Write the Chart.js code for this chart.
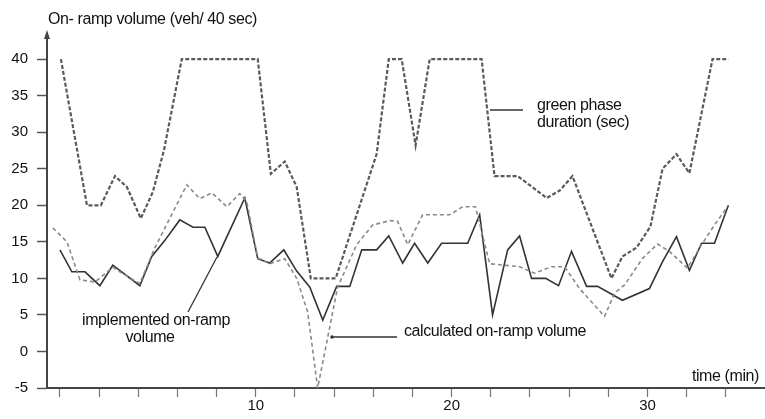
<!DOCTYPE html>
<html lang="en">
<head>
<meta charset="UTF-8">
<title>On-ramp volume and green phase duration</title>
<script src="https://cdn.jsdelivr.net/npm/chart.js"></script>
<style>
    html, body { margin: 0; padding: 0; background: #fff; }
    #wrap { width: 765px; height: 419px; }
</style>
</head>
<body>
<div id="wrap"><canvas id="rampChart" width="765" height="419"></canvas></div>

<script>
    // time (min) and values, one pair of arrays per curve
    const greenTime = [0.05, 1.38, 2.09, 2.81, 3.42, 4.13, 4.74, 5.31, 6.22, 10.10, 10.77, 11.48, 12.09, 12.81, 14.08,
        16.17, 16.79, 17.45, 18.16, 18.88, 21.53, 22.19, 23.37, 24.85, 25.51, 26.17, 28.16, 28.72, 29.44, 30.15,
        30.77, 31.48, 32.14, 33.32, 34.13];
    const greenSec = [40, 20, 20, 24, 22.5, 18.2, 21.8, 27.5, 40, 40, 24.3, 26, 22.5, 10, 10,
        27, 40, 40, 28.2, 40, 40, 24, 24, 21, 22, 24, 10, 13, 14.2, 17.1,
        25, 27, 24.4, 40, 40];

    const implTime = [0, 0.61, 1.28, 2.04, 2.70, 4.08, 4.69, 5.36, 6.12, 6.79, 7.40, 8.06, 9.44, 10.10, 10.71,
        11.43, 12.09, 12.76, 13.42, 14.13, 14.80, 15.41, 16.17, 16.79, 17.50, 18.11, 18.78, 19.49, 20.82, 21.43,
        22.09, 22.86, 23.47, 24.08, 24.80, 25.46, 26.12, 26.89, 27.45, 28.72, 30.10, 30.77, 31.48, 32.14, 32.76,
        33.42, 34.13];
    const implVeh = [13.9, 10.9, 10.9, 9, 11.8, 9, 13, 15.2, 18, 17, 17, 13, 21, 12.7, 12.1,
        13.9, 11, 8.8, 4.3, 8.9, 8.9, 13.9, 13.9, 15.8, 12.1, 14.8, 12.1, 14.8, 14.8, 18.7,
        5, 13.9, 15.8, 10, 10, 9, 13.7, 8.9, 8.9, 7, 8.6, 12.3, 15.7, 11.1, 14.8,
        14.8, 20];

    const calcTime = [-0.36, 0.36, 1.02, 1.79, 2.70, 3.42, 4.08, 4.85, 6.48, 7.14, 7.76, 8.52, 9.18, 9.54, 10.10,
        10.71, 11.48, 12.09, 12.65, 13.16, 14.18, 15.15, 15.97, 16.84, 17.24, 17.76, 18.52, 19.90, 20.56, 21.22,
        21.94, 23.47, 24.23, 25.10, 25.77, 26.53, 27.81, 28.32, 28.83, 29.74, 30.51, 31.12, 32.04, 32.76, 33.42,
        34.08];
    const calcVeh = [16.9, 15, 9.8, 9.5, 11.5, 10.3, 9.3, 14.2, 22.8, 20.9, 21.7, 19.8, 21.6, 20.5, 12.8,
        12, 12.7, 10, 5.4, -5, 8.8, 14.6, 17.3, 17.9, 17.8, 14.6, 18.7, 18.7, 19.8, 19.8,
        12, 11.6, 10.7, 11.6, 11.6, 8.6, 4.8, 8, 9.1, 12.7, 14.7, 13.7, 11.4, 14.6, 17.3,
        19.8];

    const xTicks = [0, 2, 4, 6, 8, 10, 12, 14, 16, 18, 20, 22, 24, 26, 28, 30, 32, 34];
    const xLabels = [10, 20, 30];
    const yTicks = [-5, 0, 5, 10, 15, 20, 25, 30, 35, 40];

    const FONT = '"Liberation Sans", Arial, sans-serif';

    function toPoints(ts, vs) {
        return ts.map((t, i) => ({ x: t, y: vs[i] }));
    }

    // axis arrow, leader lines and the hand-placed labels
    const notes = {
        id: 'notes',
        afterDraw(chart) {
            const ctx = chart.ctx;
            const { left, top } = chart.chartArea;
            ctx.save();

            ctx.fillStyle = '#444';
            ctx.beginPath();
            ctx.moveTo(left, top - 5);
            ctx.lineTo(left - 3, top + 4);
            ctx.lineTo(left + 3, top + 4);
            ctx.closePath();
            ctx.fill();

            ctx.strokeStyle = '#333';
            ctx.lineWidth = 1.3;
            const seg = (x1, y1, x2, y2) => {
                ctx.beginPath();
                ctx.moveTo(x1, y1);
                ctx.lineTo(x2, y2);
                ctx.stroke();
            };
            seg(490, 110, 523, 110);
            seg(188, 312, 217, 257);
            seg(332, 337, 397, 337);
            ctx.fillStyle = '#333';
            ctx.beginPath();
            ctx.arc(332, 337, 1.8, 0, Math.PI * 2);
            ctx.fill();

            ctx.fillStyle = '#111';
            ctx.font = '16px ' + FONT;
            ctx.letterSpacing = '-0.4px';
            ctx.textBaseline = 'middle';
            ctx.textAlign = 'left';
            ctx.fillText('On- ramp volume (veh/ 40 sec)', 48, 20);
            ctx.fillText('green phase', 537, 106);
            ctx.fillText('duration (sec)', 537, 123);
            ctx.fillText('calculated on-ramp volume', 404, 332);
            ctx.textAlign = 'center';
            ctx.fillText('implemented on-ramp', 156, 321);
            ctx.fillText('volume', 150, 338);
            ctx.textAlign = 'right';
            ctx.fillText('time (min)', 759, 377);

            ctx.restore();
        }
    };

    new Chart(document.getElementById('rampChart'), {
        type: 'line',
        data: {
            datasets: [
                {
                    label: 'green phase duration (sec)',
                    data: toPoints(greenTime, greenSec),
                    borderColor: '#5a5a5a',
                    borderWidth: 2.2,
                    borderDash: [4, 2],
                    pointRadius: 0,
                    tension: 0
                },
                {
                    label: 'calculated on-ramp volume',
                    data: toPoints(calcTime, calcVeh),
                    borderColor: '#8a8a8a',
                    borderWidth: 1.6,
                    borderDash: [4, 3],
                    pointRadius: 0,
                    tension: 0
                },
                {
                    label: 'implemented on-ramp volume',
                    data: toPoints(implTime, implVeh),
                    borderColor: '#333',
                    borderWidth: 1.6,
                    pointRadius: 0,
                    tension: 0
                }
            ]
        },
        options: {
            responsive: false,
            devicePixelRatio: 1,
            animation: false,
            layout: { padding: { top: 35, right: 0, left: 0, bottom: 0 } },
            plugins: {
                legend: { display: false },
                tooltip: { enabled: false }
            },
            scales: {
                x: {
                    type: 'linear',
                    min: -0.66,
                    max: 36,
                    afterBuildTicks: (scale) => { scale.ticks = xTicks.map(v => ({ value: v })); },
                    afterFit: (scale) => { scale.height = 31; },
                    border: { display: true, color: '#444', width: 2 },
                    grid: { drawOnChartArea: false, drawTicks: true, tickLength: 9, tickColor: '#777', tickWidth: 1.2 },
                    ticks: {
                        autoSkip: false,
                        maxRotation: 0,
                        padding: 0,
                        color: '#111',
                        font: { family: FONT, size: 15 },
                        callback: (v) => xLabels.includes(v) ? String(v) : ''
                    }
                },
                y: {
                    min: -5,
                    max: 43.3,
                    afterBuildTicks: (scale) => { scale.ticks = yTicks.map(v => ({ value: v })); },
                    afterFit: (scale) => { scale.width = 47; },
                    border: { display: true, color: '#444', width: 2 },
                    grid: { drawOnChartArea: false, drawTicks: true, tickLength: 10, tickColor: '#555', tickWidth: 1.5 },
                    ticks: {
                        padding: 9,
                        color: '#111',
                        font: { family: FONT, size: 15 }
                    }
                }
            }
        },
        plugins: [notes]
    });
</script>
</body>
</html>
